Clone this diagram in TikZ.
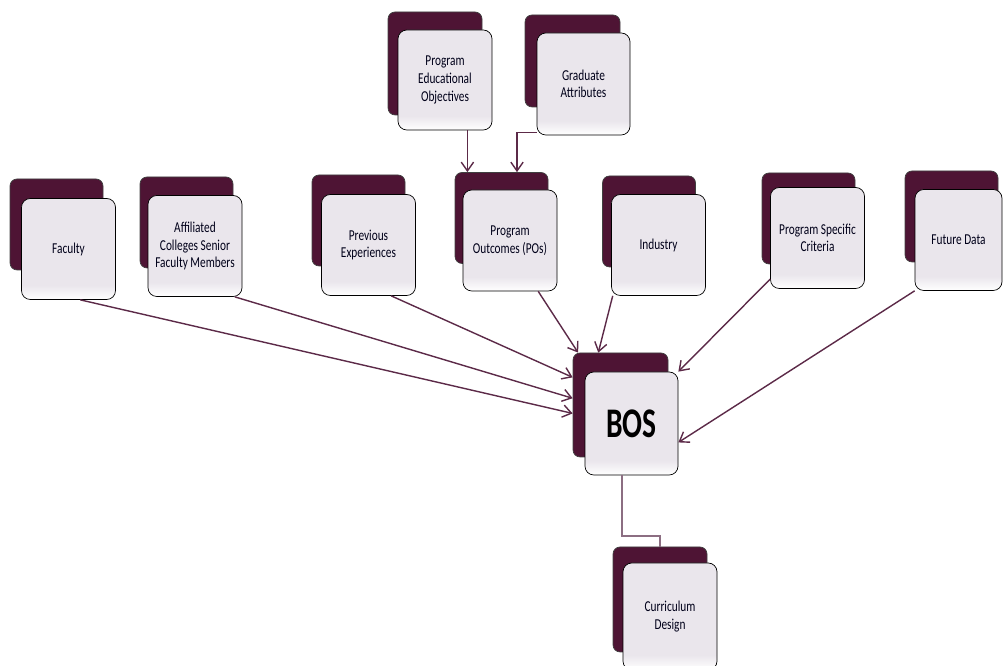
\documentclass[tikz,border=0pt]{standalone}
\usepackage{fontspec}
\setmainfont{Carlito}[FakeStretch=0.75]
\newfontfamily\bosfont{Carlito}[FakeStretch=0.7]
\usetikzlibrary{arrows.meta,calc}
\definecolor{maroon}{RGB}{78,20,52}
\definecolor{linkcol}{RGB}{92,42,72}
\definecolor{palelink}{RGB}{140,110,130}
\definecolor{frontgray}{RGB}{234,230,236}
\pgfdeclareverticalshading{frontshade}{100bp}{color(0bp)=(white); color(25bp)=(white); color(32bp)=(frontgray); color(100bp)=(frontgray)}
\tikzset{
  backbox/.style={draw=black!75, fill=maroon, rounded corners=4pt, minimum width=1.86cm, minimum height=1.82cm, inner sep=0pt},
  frontbox/.style={draw=black, rounded corners=5pt, shading=frontshade, minimum width=1.88cm, minimum height=2.02cm, inner sep=0pt, align=center, font=\fontsize{8.6}{10}\selectfont, text=black!90!blue},
  link/.style={draw=linkcol, line width=0.8pt, -{Straight Barb[length=5pt,width=7pt]}},
  paleline/.style={draw=palelink, line width=1pt}
}
\begin{document}
\begin{tikzpicture}
  \useasboundingbox (0,0) rectangle (20.06,13.32);
  % Top boxes
  \node[backbox, minimum width=1.88cm, minimum height=2.06cm] (peob) at (8.70,12.05) {};
  \node[frontbox, minimum height=2.0cm] (peof) at (8.90,11.72) {Program\\Educational\\Objectives};
  \node[backbox, minimum width=1.9cm, minimum height=1.84cm] (gab) at (11.45,12.10) {};
  \node[frontbox, minimum width=1.86cm, minimum height=2.04cm] (gaf) at (11.67,11.64) {Graduate\\Attributes};

  % Middle row
  \node[backbox] (facb) at (1.13,8.83) {};
  \node[frontbox] (facf) at (1.37,8.34) {Faculty};
  \node[backbox] (affb) at (3.73,8.87) {};
  \node[frontbox] (afff) at (3.90,8.40) {Affiliated\\Colleges Senior\\Faculty Members};
  \node[backbox] (prevb) at (7.17,8.91) {};
  \node[frontbox] (prevf) at (7.37,8.42) {Previous\\Experiences};
  \node[backbox] (pob) at (10.03,8.96) {};
  \node[frontbox] (pof) at (10.20,8.51) {Program\\Outcomes (POs)};
  \node[backbox] (indb) at (12.98,8.89) {};
  \node[frontbox] (indf) at (13.17,8.42) {Industry};
  \node[backbox] (pscb) at (16.17,8.95) {};
  \node[frontbox] (pscf) at (16.35,8.56) {Program Specific\\Criteria};
  \node[backbox] (futb) at (19.03,8.99) {};
  \node[frontbox, minimum width=1.74cm] (futf) at (19.17,8.52) {Future Data};

  % BOS and curriculum
  \node[backbox, minimum width=1.9cm, minimum height=2.08cm] (bosb) at (12.41,5.22) {};
  \node[frontbox, minimum width=1.86cm, minimum height=2.06cm, font=\bosfont\bfseries\fontsize{24}{24}\selectfont, text=black] (bosf) at (12.63,4.85) {BOS};
  \node[backbox, minimum width=1.88cm, minimum height=2.1cm] (cdb) at (13.20,1.33) {};
  \node[frontbox, minimum height=2.14cm] (cdf) at (13.40,0.99) {Curriculum\\Design};

  % Connectors
  \draw[link] (peof.294) -- (peof.294 |- pob.north);
  \draw[link] (gaf.226) -| ($(pob.north)+(0.31,0)$);
  \draw[link] (facf.283) -- (bosb.190);
  \draw[link] (afff.308) -- (bosb.172);
  \draw[link] (prevf.294) -- (bosb.150);
  \draw[link] (pof.299) -- (bosb.129);
  \draw[link] (indf.228) -- (bosb.113);
  \draw[link] (pscf.221) -- (bosf.north east);
  \draw[link] (futf.south west) -- (bosf.338);
  \draw[paleline] (bosf.260) |- ($(cdb.north)+(0,0.22)$) -- (cdb.north);
\end{tikzpicture}
\end{document}
